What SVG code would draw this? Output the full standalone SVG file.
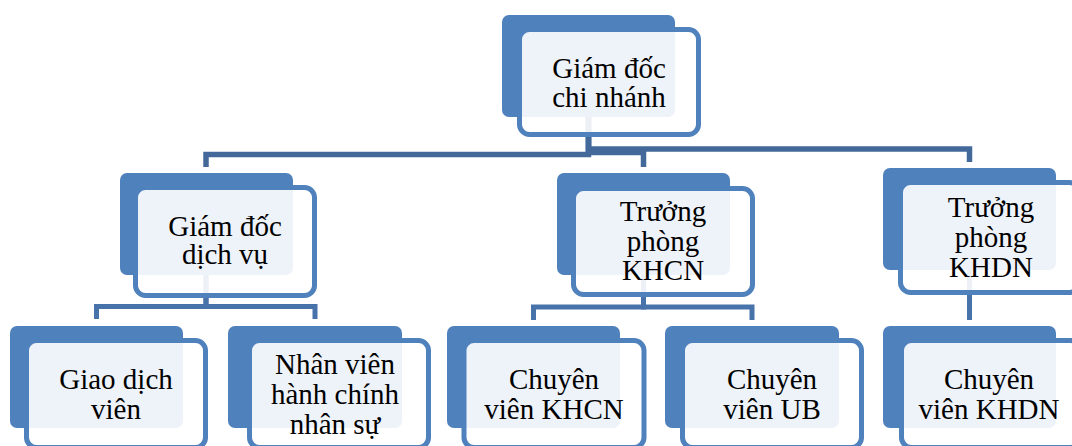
<svg xmlns="http://www.w3.org/2000/svg" width="1072" height="446" viewBox="0 0 1072 446">
<style>
.bg{fill:#ffffff}
.dark{fill:#4f81bd}
.front{fill:#ffffff;fill-opacity:0.9;stroke:#4f81bd;stroke-width:5}
.c1{fill:none;stroke:#43699b;stroke-width:5.5}
.c2{fill:none;stroke:#4873aa;stroke-width:5}
text{font-family:"Liberation Serif","Times New Roman",serif;font-size:29px;fill:#000;text-anchor:middle}
</style>
<rect class="bg" x="0" y="0" width="1072" height="446"/>
<g id="connectors">
<path class="c1" d="M588.5,117 V154.5 H206 V167"/>
<path class="c1" d="M588.5,117 V152.5 H643.5 V167"/>
<path class="c1" d="M588.5,117 V149 H969.5 V162"/>
<path class="c2" d="M206,275 V306.5 H96.5 V319"/>
<path class="c2" d="M206,275 V306.5 H315 V319"/>
<path class="c2" d="M643.5,275 V307 H533.5 V320"/>
<path class="c2" d="M643.5,275 V307 H752 V320"/>
<path class="c2" d="M969.5,270 V320"/>
</g>
<g id="n-giamdoc-cn">
<rect class="dark" x="502" y="15" width="173" height="102" rx="7"/>
<rect class="front" x="519.5" y="29.5" width="179" height="105" rx="10"/>
<text x="609" y="78">Giám đốc</text>
<text x="609" y="107">chi nhánh</text>
</g>
<g id="n-giamdoc-dv">
<rect class="dark" x="120" y="173" width="173" height="102" rx="7"/>
<rect class="front" x="135.5" y="187.5" width="179" height="108" rx="10"/>
<text x="225" y="235.5">Giám đốc</text>
<text x="225" y="264">dịch vụ</text>
</g>
<g id="n-tp-khcn">
<rect class="dark" x="557" y="173" width="173" height="102" rx="7"/>
<rect class="front" x="573.5" y="188.5" width="179" height="106" rx="10"/>
<text x="663" y="221">Trưởng</text>
<text x="663" y="250.5">phòng</text>
<text x="663" y="280">KHCN</text>
</g>
<g id="n-tp-khdn">
<rect class="dark" x="883" y="168" width="173" height="102" rx="7"/>
<rect class="front" x="900.5" y="182.5" width="179" height="110" rx="10"/>
<text x="991" y="217">Trưởng</text>
<text x="991" y="247">phòng</text>
<text x="991" y="277">KHDN</text>
</g>
<g id="n-gdv">
<rect class="dark" x="10" y="326" width="173" height="102" rx="7"/>
<rect class="front" x="26.5" y="340.5" width="179" height="107" rx="10"/>
<text x="116" y="388.5">Giao dịch</text>
<text x="116" y="418.5">viên</text>
</g>
<g id="n-nvhc">
<rect class="dark" x="228" y="326" width="174" height="102" rx="7"/>
<rect class="front" x="249.5" y="340.5" width="179" height="107" rx="10"/>
<text x="335" y="373.5">Nhân viên</text>
<text x="335" y="403.5">hành chính</text>
<text x="335" y="433.5">nhân sự</text>
</g>
<g id="n-cv-khcn">
<rect class="dark" x="447" y="326" width="173" height="102" rx="7"/>
<rect class="front" x="464" y="340.5" width="180" height="107" rx="10"/>
<text x="554" y="389">Chuyên</text>
<text x="554" y="418.5">viên KHCN</text>
</g>
<g id="n-cv-ub">
<rect class="dark" x="665" y="326" width="174" height="102" rx="7"/>
<rect class="front" x="682.5" y="340.5" width="179" height="107" rx="10"/>
<text x="772" y="389">Chuyên</text>
<text x="772" y="418.5">viên UB</text>
</g>
<g id="n-cv-khdn">
<rect class="dark" x="883" y="326" width="173" height="102" rx="7"/>
<rect class="front" x="901.5" y="340.5" width="179" height="107" rx="10"/>
<text x="989" y="388.5">Chuyên</text>
<text x="989" y="418.5">viên KHDN</text>
</g>
</svg>
